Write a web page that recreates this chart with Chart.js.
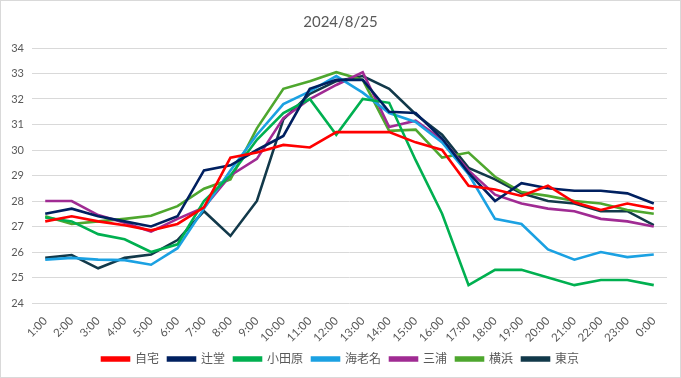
<!DOCTYPE html>
<html>
<head>
<meta charset="utf-8">
<script src="https://cdn.jsdelivr.net/npm/chart.js@4"></script>
<style>
html,body{margin:0;padding:0;background:#fff;}
#wrap{position:relative;width:681px;height:378px;box-sizing:border-box;border:1px solid #d9d9d9;}
canvas{display:block;}
</style>
</head>
<body>
<div id="wrap"><canvas id="c" width="679" height="376"></canvas></div>
<script>
const title = "2024/8/25";
const labels = ["1:00","2:00","3:00","4:00","5:00","6:00","7:00","8:00","9:00","10:00","11:00","12:00","13:00","14:00","15:00","16:00","17:00","18:00","19:00","20:00","21:00","22:00","23:00","0:00"];
const seriesNames = ["自宅","辻堂","小田原","海老名","三浦","横浜","東京"];
const jitaku   = [27.2,27.4,27.2,27.05,26.85,27.1,27.75,29.7,29.9,30.2,30.1,30.7,30.7,30.7,30.3,30.0,28.6,28.45,28.2,28.6,27.95,27.65,27.9,27.7];
const tsujido  = [27.5,27.7,27.4,27.2,27.0,27.4,29.2,29.4,30.0,30.55,32.4,32.75,32.75,31.5,31.45,30.45,29.1,28.0,28.7,28.5,28.4,28.4,28.3,27.9];
const odawara  = [27.35,27.2,26.7,26.5,26.0,26.3,28.0,29.0,30.4,31.45,32.0,30.6,32.0,31.85,29.6,27.5,24.7,25.3,25.3,25.0,24.7,24.9,24.9,24.7];
const ebina    = [25.7,25.77,25.7,25.68,25.5,26.15,27.7,29.2,30.6,31.8,32.3,32.9,32.25,31.45,31.1,30.3,29.05,27.3,27.1,26.1,25.7,26.0,25.8,25.9];
const miura    = [28.0,28.0,27.45,27.15,26.8,27.3,27.75,29.0,29.65,31.25,32.0,32.55,33.05,30.9,31.15,30.4,29.2,28.25,27.9,27.7,27.6,27.3,27.2,27.0];
const yokohama = [27.4,27.1,27.2,27.3,27.42,27.8,28.48,28.85,30.85,32.4,32.7,33.05,32.75,30.75,30.8,29.7,29.9,28.95,28.35,28.2,28.0,27.9,27.65,27.5];
const tokyo    = [25.77,25.88,25.36,25.77,25.9,26.47,27.6,26.63,28.0,31.2,32.2,32.7,32.9,32.4,31.4,30.6,29.3,28.85,28.3,28.0,27.9,27.6,27.6,27.05];
const yMin = 24, yMax = 34, yStep = 1;

const colors = ["#ff0000","#002060","#00b050","#1ba1e2","#a02b93","#4ea72e","#12394a"];
const values = [jitaku,tsujido,odawara,ebina,miura,yokohama,tokyo];
const FONT = "Lato, 'Noto Sans CJK JP', sans-serif";
const TXT = "#595959";

new Chart(document.getElementById('c'), {
  type: 'line',
  data: {
    labels: labels,
    datasets: seriesNames.map((n,i)=>({
      label: n,
      data: values[i],
      borderColor: colors[i],
      backgroundColor: colors[i],
      borderWidth: 2.6,
      pointRadius: 0,
      tension: 0,
      fill: false
    }))
  },
  options: {
    responsive: false,
    animation: false,
    layout: {padding: {left: 0, right: 0, top: 0, bottom: 2}},
    plugins: {
      title: {display: true, text: title, color: TXT, font: {family: FONT, size: 15, weight: 'normal'}, padding: {top: 12, bottom: 17}},
      legend: {
        position: 'bottom',
        labels: {color: TXT, font: {family: FONT, size: 12}, boxWidth: 27, boxHeight: 3, padding: 9}
      },
      tooltip: {enabled: false}
    },
    scales: {
      x: {
        offset: true,
        grid: {display: false},
        border: {display: false},
        ticks: {color: TXT, font: {family: FONT, size: 11.5}, maxRotation: 45, minRotation: 45, autoSkip: false, padding: 3},
        afterFit: s => { s.height = 41; }
      },
      y: {
        min: yMin, max: yMax,
        grid: {color: "#d9d9d9", drawTicks: false, lineWidth: 1},
        border: {display: false},
        ticks: {stepSize: yStep, color: TXT, font: {family: FONT, size: 11}, padding: 8},
        afterFit: s => { s.width = 31; }
      },
      yPad: {
        position: 'right',
        min: yMin, max: yMax,
        grid: {display: false},
        border: {display: false},
        ticks: {display: false},
        afterFit: s => { s.width = 13; }
      }
    }
  }
});
</script>
</body>
</html>
